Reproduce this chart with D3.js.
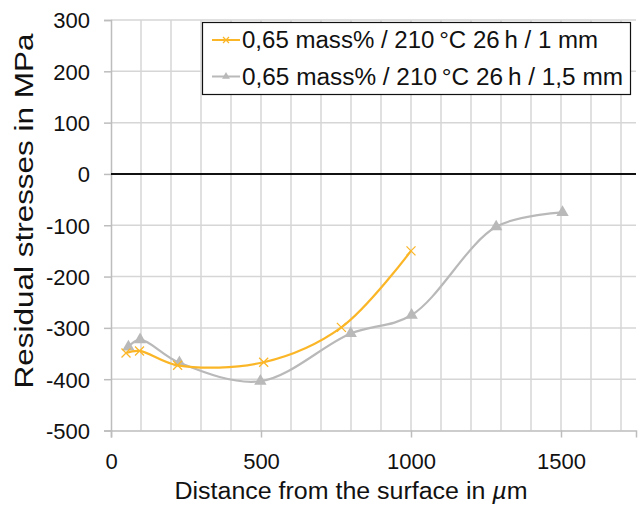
<!DOCTYPE html>
<html>
<head>
<meta charset="utf-8">
<script src="https://cdn.jsdelivr.net/npm/d3@7"></script>
<style>
  html, body { margin: 0; padding: 0; background: #fff; }
  svg { display: block; font-family: "Liberation Sans", Arial, Helvetica, sans-serif; }
</style>
</head>
<body>
<svg id="chart" width="638" height="506"></svg>
<script>
// Depth positions (µm) and measured residual stresses (MPa)
const depth1mm = [50, 95, 222, 509, 768, 1000];
const stress1mm = [-349, -345, -373, -367, -299, -150];
const depth15mm = [58, 97, 228, 498, 799, 1002, 1284, 1505];
const stress15mm = [-337, -323, -368, -404, -311, -275, -103, -75];

const seriesNames = [
  "0,65 mass% / 210\u2009°C 26\u2009h / 1 mm",
  "0,65 mass% / 210\u2009°C 26\u2009h / 1,5 mm"
];
const xTickValues = [0, 500, 1000, 1500];
const yTickValues = [300, 200, 100, 0, -100, -200, -300, -400, -500];
const xTitleParts = ["Distance from the surface in ", "\u00b5", "m"];
const yTitle = "Residual stresses in MPa";

const colors = ["#fbb627", "#b9b9b9"];

const svg = d3.select("#chart");
const x = d3.scaleLinear().domain([0, 1750]).range([111, 636]);
const y = d3.scaleLinear().domain([-500, 300]).range([430.5, 20]);

// plain hyphen-minus for negative tick labels
const fmt = d => String(d);

// grid
const grid = svg.append("g");
grid.selectAll("line.v").data(d3.range(100, 1800, 100)).join("line")
  .attr("x1", d => x(d)).attr("x2", d => x(d))
  .attr("y1", y(300)).attr("y2", y(-500))
  .attr("stroke", "#d6d6d6").attr("stroke-width", 1.5);
grid.selectAll("line.h").data(yTickValues.filter(v => v !== -500 && v !== 0)).join("line")
  .attr("x1", x(0)).attr("x2", x(1750))
  .attr("y1", d => y(d)).attr("y2", d => y(d))
  .attr("stroke", "#d6d6d6").attr("stroke-width", 1.5);

// axes
const yAxis = svg.append("g").attr("transform", `translate(${x(0)},0)`)
  .call(d3.axisLeft(y).tickValues(yTickValues).tickSize(7).tickPadding(14).tickFormat(fmt));
const xAxis = svg.append("g").attr("transform", `translate(0,${y(-500)})`)
  .call(d3.axisBottom(x).tickValues(xTickValues).tickSize(7).tickPadding(16).tickFormat(fmt));
[yAxis, xAxis].forEach(g => {
  g.select(".domain").attr("stroke", "#bdbdbd").attr("stroke-width", 1.5);
  g.selectAll(".tick line").attr("stroke", "#bdbdbd").attr("stroke-width", 1.5);
  g.selectAll(".tick text").attr("fill", "#111").style("font-size", "22px")
    .style("font-family", "Liberation Sans, Arial, sans-serif");
});
yAxis.selectAll(".tick text").attr("dy", "0.36em");

// zero line
svg.append("line")
  .attr("x1", x(0)).attr("x2", x(1750))
  .attr("y1", y(0)).attr("y2", y(0))
  .attr("stroke", "#111").attr("stroke-width", 2);

// titles
const xt = svg.append("text").attr("x", 351).attr("y", 499).attr("text-anchor", "middle")
  .style("font-size", "23px").attr("fill", "#111")
  .attr("textLength", 353).attr("lengthAdjust", "spacingAndGlyphs");
xt.append("tspan").text(xTitleParts[0]);
xt.append("tspan").style("font-style", "italic").text(xTitleParts[1]);
xt.append("tspan").text(xTitleParts[2]);
svg.append("text").attr("transform", "translate(33,211) rotate(-90)").attr("text-anchor", "middle")
  .style("font-size", "25px").attr("fill", "#111")
  .attr("textLength", 355).attr("lengthAdjust", "spacingAndGlyphs").text(yTitle);

// series
const series = [
  { xs: depth1mm, ys: stress1mm, color: colors[0], marker: "x" },
  { xs: depth15mm, ys: stress15mm, color: colors[1], marker: "tri" }
];
const line = d3.line().x(d => x(d[0])).y(d => y(d[1])).curve(d3.curveCatmullRom.alpha(0.5));

function drawMarker(g, type, color, cx, cy, s) {
  if (type === "x") {
    g.append("path")
      .attr("d", `M${cx - s},${cy - s}L${cx + s},${cy + s}M${cx - s},${cy + s}L${cx + s},${cy - s}`)
      .attr("stroke", color).attr("stroke-width", 1.3).attr("fill", "none");
  } else {
    g.append("path")
      .attr("d", d3.symbol().type(d3.symbolTriangle).size(s * s * 2.2)())
      .attr("transform", `translate(${cx},${cy})`)
      .attr("fill", color);
  }
}

// gray series underneath, orange on top
[series[1], series[0]].forEach(s => {
  const pts = s.xs.map((v, i) => [v, s.ys[i]]);
  svg.append("path").datum(pts).attr("d", line)
    .attr("fill", "none").attr("stroke", s.color).attr("stroke-width", 2.2);
  const mg = svg.append("g");
  pts.forEach(p => drawMarker(mg, s.marker, s.color, x(p[0]), y(p[1]), s.marker === "x" ? 4.5 : 5.5));
});

// legend
const legendLengths = [356, 381];
const lg = svg.append("g");
lg.append("rect").attr("x", 202.5).attr("y", 22.5).attr("width", 428).attr("height", 72)
  .attr("fill", "#fff").attr("stroke", "#111").attr("stroke-width", 1.2);
series.forEach((s, i) => {
  const cy = 40 + i * 36.5;
  lg.append("line").attr("x1", 212).attr("x2", 240).attr("y1", cy).attr("y2", cy)
    .attr("stroke", s.color).attr("stroke-width", 2);
  drawMarker(lg, s.marker, s.color, 226, cy, s.marker === "x" ? 3 : 3.5);
  lg.append("text").attr("x", 242).attr("y", cy).attr("dy", "0.36em")
    .style("font-size", "23px").attr("fill", "#111")
    .attr("textLength", legendLengths[i]).attr("lengthAdjust", "spacingAndGlyphs")
    .text(seriesNames[i]);
});
</script>
</body>
</html>
